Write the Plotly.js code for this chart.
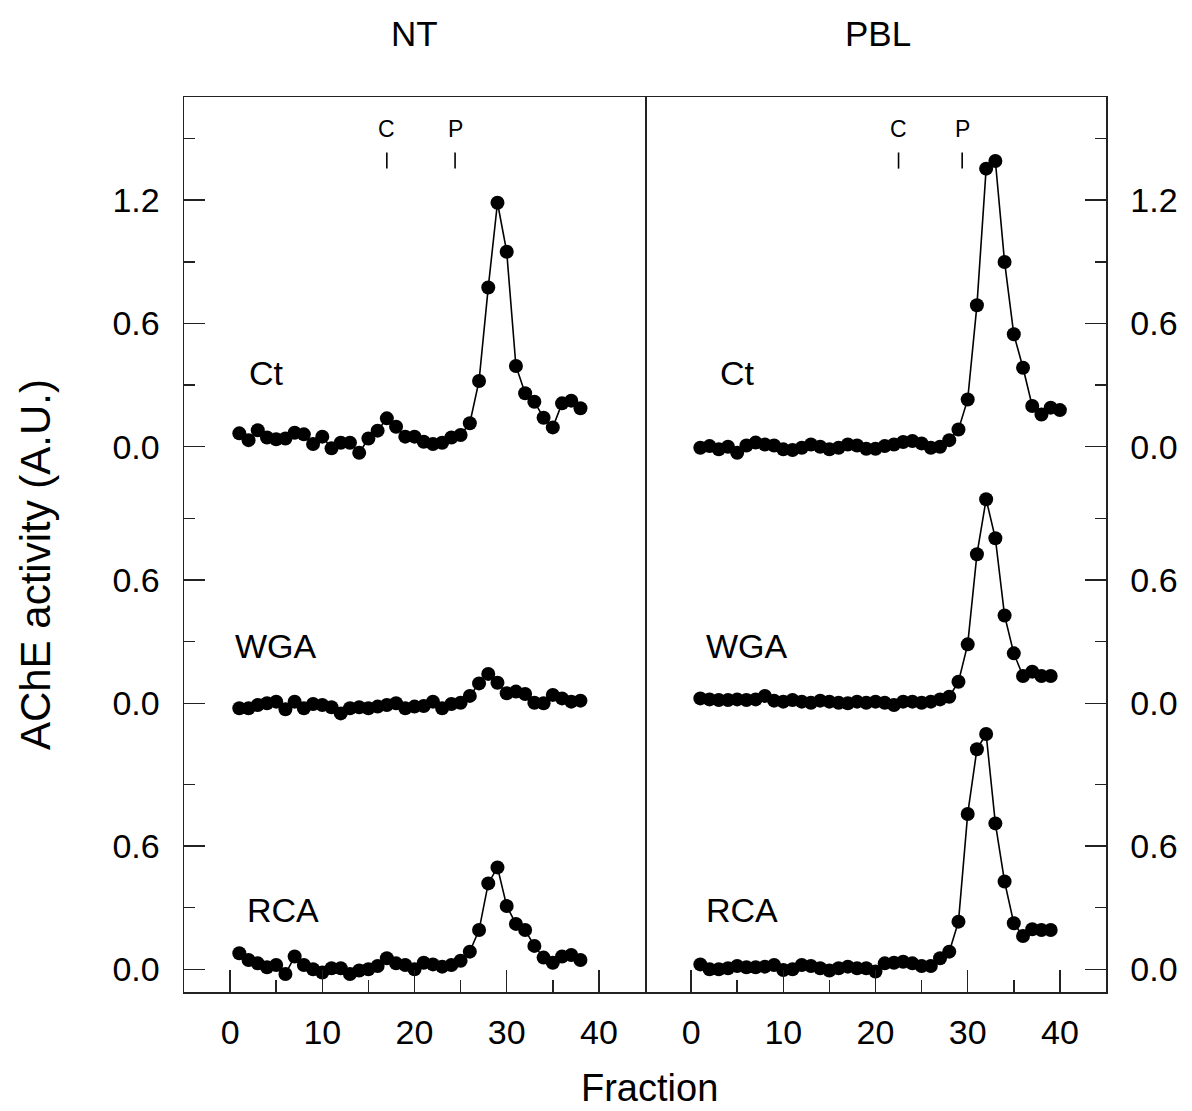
<!DOCTYPE html>
<html>
<head>
<meta charset="utf-8">
<script src="https://cdn.plot.ly/plotly-3.0.1.min.js"></script>
<style>html,body{margin:0;padding:0;background:#fff;}</style>
</head>
<body>
<div id="chart" style="width:1192px;height:1111px;"></div>
<script>
// ---- Data (AChE activity, A.U.) ----
const panelTitles = ['NT', 'PBL'];
const seriesNames = ['Ct', 'WGA', 'RCA'];

const fractionsNT = Array.from({length: 38}, (_, i) => i + 1);
const fractionsPBL_Ct = Array.from({length: 40}, (_, i) => i + 1);
const fractionsPBL_WGA = Array.from({length: 39}, (_, i) => i + 1);
const fractionsPBL_RCA = Array.from({length: 39}, (_, i) => i + 1);

const nt_Ct = [0.065, 0.032, 0.08, 0.045, 0.036, 0.04, 0.068, 0.06, 0.013, 0.049,
  -0.008, 0.019, 0.019, -0.03, 0.04, 0.078, 0.138, 0.097, 0.049, 0.049,
  0.024, 0.013, 0.019, 0.045, 0.057, 0.114, 0.32, 0.775, 1.187, 0.949,
  0.393, 0.26, 0.219, 0.141, 0.094, 0.211, 0.224, 0.187];
const nt_WGA = [-0.024, -0.024, -0.008, 0, 0.008, -0.029, 0.008, -0.024, -0.003, -0.008,
  -0.019, -0.049, -0.024, -0.019, -0.024, -0.016, -0.008, 0, -0.024, -0.016,
  -0.013, 0.008, -0.024, -0.003, 0.003, 0.036, 0.097, 0.143, 0.1, 0.049,
  0.057, 0.045, 0.003, 0, 0.041, 0.024, 0.008, 0.013];
const nt_RCA = [0.078, 0.045, 0.029, 0.01, 0.021, -0.023, 0.062, 0.021, 0, -0.016,
  0.005, 0.005, -0.023, -0.006, 0, 0.016, 0.054, 0.029, 0.021, 0,
  0.032, 0.024, 0.013, 0.021, 0.042, 0.086, 0.191, 0.418, 0.496, 0.308,
  0.221, 0.191, 0.114, 0.057, 0.032, 0.062, 0.07, 0.045];

const pbl_Ct = [-0.005, 0.003, -0.013, 0, -0.03, 0.006, 0.02, 0.011, 0.006, -0.013,
  -0.016, -0.005, 0.011, 0, -0.013, -0.005, 0.011, 0.006, -0.01, -0.01,
  0.003, 0.011, 0.023, 0.028, 0.016, -0.005, 0, 0.032, 0.084, 0.23,
  0.688, 1.353, 1.39, 0.899, 0.547, 0.384, 0.198, 0.157, 0.19, 0.178];
const pbl_WGA = [0.024, 0.019, 0.016, 0.016, 0.019, 0.016, 0.019, 0.036, 0.013, 0.008,
  0.016, 0.008, 0.003, 0.013, 0.008, 0.003, 0, 0.008, 0.003, 0.008,
  0.003, -0.008, 0.008, 0.008, 0.003, 0.008, 0.019, 0.032, 0.105, 0.287,
  0.725, 0.993, 0.803, 0.427, 0.243, 0.133, 0.154, 0.133, 0.133];
const pbl_RCA = [0.024, 0, 0, 0.005, 0.016, 0.01, 0.01, 0.013, 0.021, -0.003,
  0, 0.021, 0.016, 0.005, -0.006, 0.005, 0.013, 0.005, 0.005, -0.011,
  0.029, 0.032, 0.037, 0.029, 0.016, 0.016, 0.054, 0.086, 0.232, 0.756,
  1.071, 1.145, 0.71, 0.427, 0.224, 0.162, 0.195, 0.191, 0.191];

// Standard markers (C, P) positions in fraction units
const stdLabels = ['C', 'P'];
const stdPosNT = [17.0, 24.4];
const stdPosPBL = [22.5, 29.4];

// Tick values
const xTickVals = [0, 10, 20, 30, 40];
const xMinorVals = [5, 15, 25, 35];
const yTickCt = [0, 0.6, 1.2];
const yMinorCt = [0.3, 0.9, 1.5];
const yTickLow = [0, 0.6];
const yMinorLow = [0.3, 0.9];

// ---- Style ----
const FONT = 'Liberation Sans, Arial, sans-serif';
const axisColor = '#222';
const lineW = 1.5;

function trace(x, y, xa, ya) {
  return {
    x: x, y: y, xaxis: xa, yaxis: ya, type: 'scatter', mode: 'lines+markers',
    line: {color: '#000', width: 1.6},
    marker: {color: '#000', size: 14},
    showlegend: false, hoverinfo: 'x+y'
  };
}

const data = [
  trace(fractionsNT, nt_Ct, 'x', 'y'),
  trace(fractionsNT, nt_WGA, 'x', 'y2'),
  trace(fractionsNT, nt_RCA, 'x', 'y3'),
  trace(fractionsPBL_Ct, pbl_Ct, 'x2', 'y4'),
  trace(fractionsPBL_WGA, pbl_WGA, 'x2', 'y5'),
  trace(fractionsPBL_RCA, pbl_RCA, 'x2', 'y6')
];

function xAxis(domain, anchor) {
  return {
    domain: domain, anchor: anchor, range: [-5, 45],
    showline: true, linecolor: axisColor, linewidth: lineW, mirror: true,
    ticks: 'inside', ticklen: 22, tickwidth: lineW, tickcolor: axisColor,
    tickmode: 'array', tickvals: xTickVals, ticktext: xTickVals.map(String),
    minor: {tickmode: 'array', tickvals: xMinorVals, ticks: 'inside', ticklen: 12, tickwidth: lineW, tickcolor: axisColor, showgrid: false},
    showgrid: false, zeroline: false,
    tickfont: {family: FONT, size: 34, color: '#000'},
    ticklabelstandoff: 10
  };
}

function yAxis(range, tickvals, minorvals, side, anchor, overlaying, mirror) {
  const ax = {
    domain: [0, 1], anchor: anchor, range: range, side: side,
    showline: true, linecolor: axisColor, linewidth: lineW, mirror: mirror,
    ticks: 'inside', ticklen: 21, tickwidth: lineW, tickcolor: axisColor,
    tickmode: 'array', tickvals: tickvals, ticktext: tickvals.map(v => v.toFixed(1)),
    minor: {tickmode: 'array', tickvals: minorvals, ticks: 'inside', ticklen: 11, tickwidth: lineW, tickcolor: axisColor, showgrid: false},
    showgrid: false, zeroline: false,
    tickfont: {family: FONT, size: 34, color: '#000'},
    ticklabelstandoff: 16
  };
  if (overlaying) ax.overlaying = overlaying;
  return ax;
}

// y ranges chosen so the three traces stack with the same scale
const rangeCt = [-2.6535, 1.7017];
const rangeWGA = [-1.4048, 2.9504];
const rangeRCA = [-0.1104, 4.2448];

const annotations = [];
// panel titles
[0.2505, 0.7527].forEach((xp, i) => annotations.push({
  text: panelTitles[i], xref: 'paper', yref: 'paper', x: xp, y: 1.0715,
  xanchor: 'center', yanchor: 'middle',
  showarrow: false, font: {family: FONT, size: 35, color: '#000'}
}));
// series labels
const labelPos = {
  NT: [{x: 4.0, y: 0.36, ya: 'y'}, {x: 5.0, y: 0.28, ya: 'y2'}, {x: 5.7, y: 0.29, ya: 'y3'}],
  PBL: [{x: 5.0, y: 0.36, ya: 'y4'}, {x: 6.1, y: 0.28, ya: 'y5'}, {x: 5.5, y: 0.29, ya: 'y6'}]
};
labelPos.NT.forEach((p, i) => annotations.push({
  text: seriesNames[i], xref: 'x', yref: p.ya, x: p.x, y: p.y, showarrow: false,
  xanchor: 'center', yanchor: 'middle',
  font: {family: FONT, size: 34, color: '#000'}
}));
labelPos.PBL.forEach((p, i) => annotations.push({
  text: seriesNames[i], xref: 'x2', yref: p.ya, x: p.x, y: p.y, showarrow: false,
  xanchor: 'center', yanchor: 'middle',
  font: {family: FONT, size: 34, color: '#000'}
}));
// standards
const shapes = [];
stdLabels.forEach((lab, i) => {
  [[stdPosNT[i], 'x'], [stdPosPBL[i], 'x2']].forEach(([xv, xr]) => {
    annotations.push({text: lab, xref: xr, yref: 'paper', x: xv, y: 0.964, showarrow: false,
      xanchor: 'center', yanchor: 'middle',
      font: {family: FONT, size: 23, color: '#000'}});
    shapes.push({type: 'line', xref: xr, yref: 'paper', x0: xv, x1: xv, y0: 0.920, y1: 0.938,
      line: {color: '#000', width: 1.6}});
  });
});
// axis titles
annotations.push({text: 'AChE activity (A.U.)', xref: 'paper', yref: 'paper', x: -0.1616, y: 0.477,
  xanchor: 'center', yanchor: 'middle',
  textangle: -90, showarrow: false, font: {family: FONT, size: 42, color: '#000'}});
annotations.push({text: 'Fraction', xref: 'paper', yref: 'paper', x: 0.5054, y: -0.1073,
  xanchor: 'center', yanchor: 'middle',
  showarrow: false, font: {family: FONT, size: 38, color: '#000'}});

const layout = {
  width: 1192, height: 1111,
  margin: {l: 184, r: 86, t: 97, b: 119, pad: 0},
  paper_bgcolor: '#fff', plot_bgcolor: '#fff',
  showlegend: false,
  xaxis: xAxis([0, 0.5], 'y'),
  xaxis2: xAxis([0.5, 1], 'y4'),
  yaxis: yAxis(rangeCt, yTickCt, yMinorCt, 'left', 'x', null, true),
  yaxis2: yAxis(rangeWGA, yTickLow, yMinorLow, 'left', 'x', 'y', true),
  yaxis3: yAxis(rangeRCA, yTickLow, yMinorLow, 'left', 'x', 'y', true),
  yaxis4: yAxis(rangeCt, yTickCt, yMinorCt, 'right', 'x2', null, false),
  yaxis5: yAxis(rangeWGA, yTickLow, yMinorLow, 'right', 'x2', 'y4', false),
  yaxis6: yAxis(rangeRCA, yTickLow, yMinorLow, 'right', 'x2', 'y4', false),
  annotations: annotations,
  shapes: shapes
};

Plotly.newPlot('chart', data, layout, {displayModeBar: false, staticPlot: true});
</script>
</body>
</html>
